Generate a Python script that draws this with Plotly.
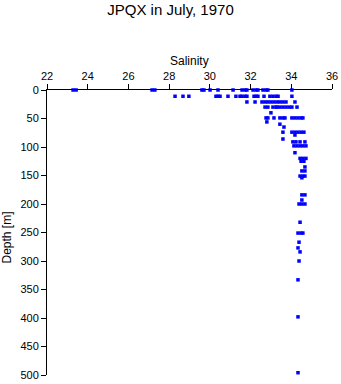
import plotly.graph_objects as go

salinity = [
    # ~0 m
    23.28, 23.43, 27.16, 27.30, 29.61, 29.71, 30.01, 30.40, 31.14, 31.58, 31.73, 31.82,
    32.12, 32.27, 32.36, 32.61, 32.76, 32.85, 34.03,
    # ~10 m
    28.29, 28.68, 28.97, 30.30, 30.40, 30.50, 30.89, 31.28, 31.48, 31.58, 31.73, 31.82,
    32.17, 32.27, 32.36, 32.66, 32.95, 33.10, 33.25, 33.35, 34.03,
    # ~20 m
    31.82, 32.22, 32.56, 32.71, 32.85, 33.00, 33.15, 33.30, 33.44, 33.59, 33.74, 34.18,
    # ~30 m
    32.71, 32.85, 33.10, 33.25, 33.30, 33.44, 33.59, 33.74, 33.89, 34.03, 34.28,
    # ~40 m
    33.00,
    # ~50 m
    32.76, 32.85, 33.15, 33.44, 33.59, 33.69, 34.03, 34.18, 34.33, 34.48, 34.57,
    32.80, 33.44, 33.64,
    # ~75 m
    33.59, 34.03, 34.18, 34.33, 34.48, 34.62, 34.18, 33.59,
    # ~90-100 m
    34.08, 34.23, 34.43, 34.67, 34.13, 34.28, 34.43, 34.57, 34.72, 34.18,
    # ~125 m
    34.43, 34.57, 34.72, 34.48, 34.62, 34.67, 34.52, 34.67,
    # ~150 m
    34.43, 34.57, 34.67, 34.52,
    # ~200 m
    34.52, 34.67, 34.52, 34.38, 34.52, 34.67,
    # deep
    34.43, 34.33, 34.48, 34.57, 34.38, 34.33, 34.43, 34.38, 34.33, 34.33, 34.33,
]
depth = [
    0, 0, 0, 0, 0, 0, 0, 0, 0, 0, 0, 0,
    0, 0, 0, 0, 0, 0, 0,
    11, 11, 11, 11, 11, 11, 11, 11, 11, 11, 11, 11,
    11, 11, 11, 11, 11, 11, 11, 11, 11,
    21, 21, 21, 21, 21, 21, 21, 21, 21, 21, 21, 21,
    30, 30, 30, 30, 30, 30, 30, 30, 30, 30, 30,
    40,
    49, 49, 49, 49, 49, 49, 49, 49, 49, 49, 49,
    56, 60, 65,
    74, 74, 74, 74, 74, 74, 79, 86,
    91, 91, 91, 91, 98, 98, 98, 98, 98, 110,
    120, 120, 120, 125, 125, 135, 142, 142,
    151, 151, 151, 154,
    184, 184, 193, 200, 200, 200,
    232, 251, 251, 251, 267, 277, 284, 300, 333, 398, 496,
]

x_ticks = [22, 24, 26, 28, 30, 32, 34, 36]
y_ticks = [0, 50, 100, 150, 200, 250, 300, 350, 400, 450, 500]

FONT = "Liberation Sans, Arial, sans-serif"

fig = go.Figure(go.Scatter(
    x=salinity, y=depth, mode="markers",
    marker=dict(symbol="square", size=3.5, color="#0000ff", line=dict(width=0)),
    cliponaxis=False, hoverinfo="x+y",
))

fig.update_layout(
    template="none",
    width=341, height=384, autosize=False,
    margin=dict(l=47, r=9, t=90, b=9, pad=0, autoexpand=False),
    paper_bgcolor="white", plot_bgcolor="white",
    showlegend=False,
    font=dict(family=FONT, size=11, color="black"),
    title=dict(text="JPQX in July, 1970", x=0.5, xanchor="center",
               y=1 - 10 / 384, yanchor="middle", yref="container",
               font=dict(family=FONT, size=15, color="black")),
    xaxis=dict(side="top", range=[22, 36], tickvals=x_ticks, automargin=False,
               ticks="outside", ticklen=5, tickcolor="black", tickwidth=1,
               showline=True, linecolor="black", linewidth=1,
               showgrid=False, zeroline=False,
               tickfont=dict(family=FONT, size=11)),
    yaxis=dict(range=[500, 0], tickvals=y_ticks, automargin=False,
               ticks="outside", ticklen=5, tickcolor="black", tickwidth=1,
               showline=True, linecolor="black", linewidth=1,
               showgrid=False, zeroline=False,
               tickfont=dict(family=FONT, size=11)),
    annotations=[
        dict(text="Salinity", xref="paper", yref="paper", x=0.5, y=1,
             yshift=29, showarrow=False, xanchor="center", yanchor="middle",
             font=dict(family=FONT, size=12)),
        dict(text="Depth [m]", xref="paper", yref="paper", x=0, y=0.5,
             xshift=-41, yshift=-5, showarrow=False, textangle=-90,
             xanchor="center", yanchor="middle",
             font=dict(family=FONT, size=12)),
    ],
)

fig.write_html("out.html")
